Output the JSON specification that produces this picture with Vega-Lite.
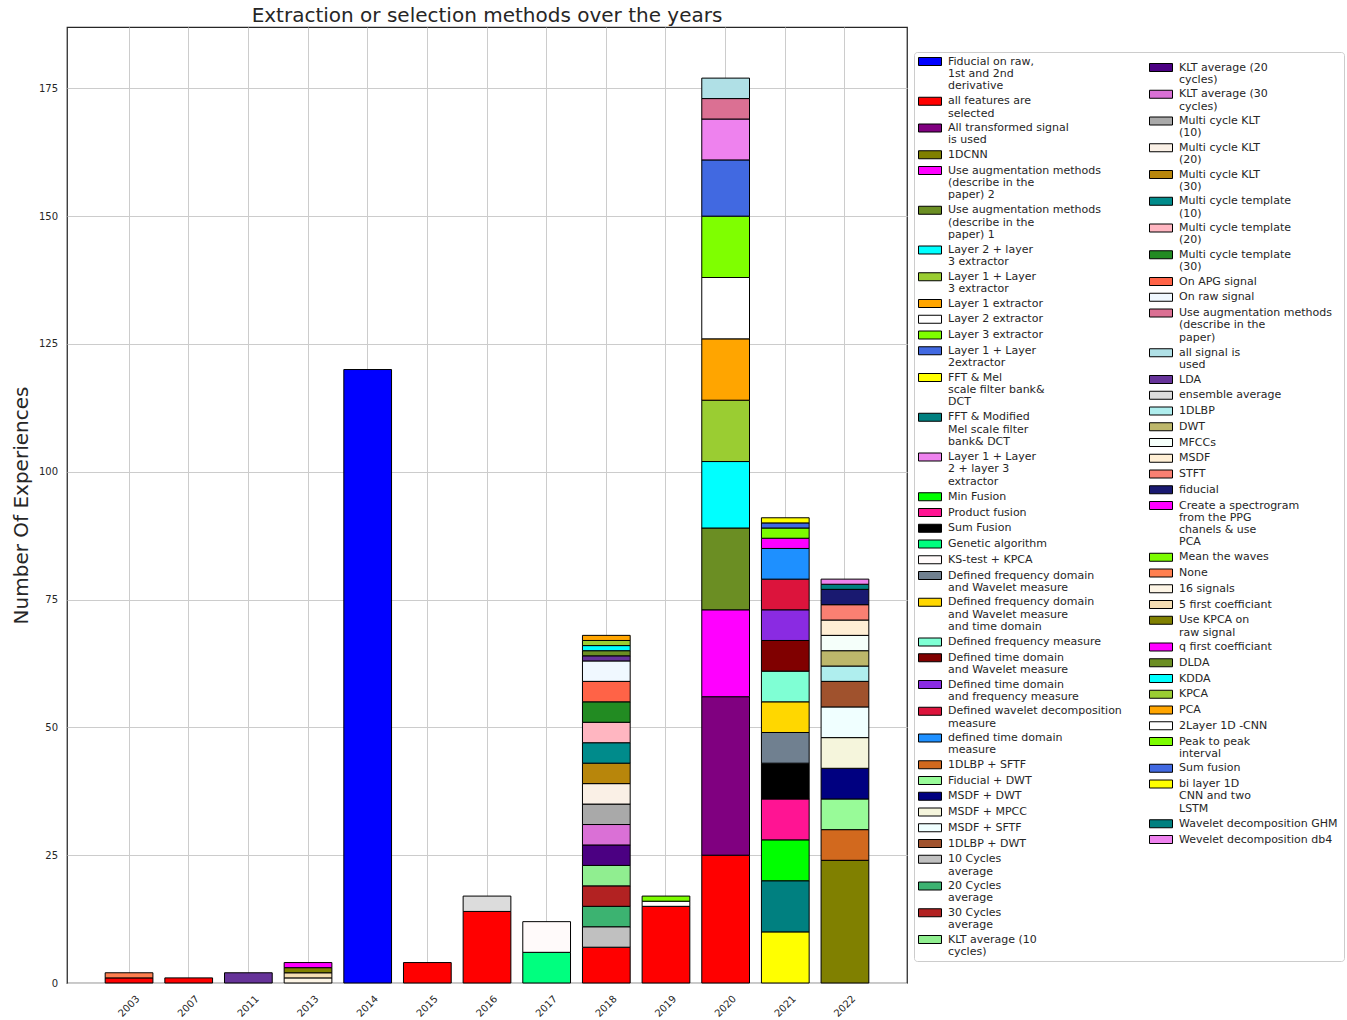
{
  "$schema": "https://vega.github.io/schema/vega-lite/v6.json",
  "autosize": {"type": "none"},
  "padding": {"left": 67, "top": 27, "right": 440, "bottom": 37},
  "width": 840,
  "height": 956,
  "background": "white",
  "config": {
    "font": "DejaVu Sans",
    "view": {"stroke": "#262626", "strokeWidth": 1.25},
    "axis": {"labelFont": "DejaVu Sans", "labelFontSize": 10, "labelColor": "#262626", "titleFont": "DejaVu Sans", "titleFontSize": 20, "titleFontWeight": "normal", "titleColor": "#262626", "gridColor": "#cccccc", "gridWidth": 1, "domain": false, "ticks": false, "tickSize": 0},
    "legend": {"orient": "none", "labelFont": "DejaVu Sans", "labelFontSize": 11, "labelColor": "#262626", "symbolType": "M-1,-0.8H3.6V0.8H-1Z", "symbolSize": 100, "symbolStrokeColor": "black", "symbolStrokeWidth": 1, "symbolOpacity": 1, "labelOffset": 19, "rowPadding": 2.75, "symbolLimit": 200, "labelLimit": 400, "padding": 4}
  },
  "title": {"text": "Extraction or selection methods over the years", "font": "DejaVu Sans", "fontSize": 20, "fontWeight": "normal", "color": "#262626", "frame": "group", "anchor": "middle", "baseline": "alphabetic", "offset": 4.5, "dy": 19},
  "data": {"values": [
    {"year": "2003", "method": "all features are\nselected", "n": 1, "k": 2},
    {"year": "2003", "method": "None", "n": 1, "k": 60},
    {"year": "2007", "method": "all features are\nselected", "n": 1, "k": 2},
    {"year": "2011", "method": "LDA", "n": 2, "k": 50},
    {"year": "2013", "method": "16 signals", "n": 1, "k": 61},
    {"year": "2013", "method": "5 first coefficiant", "n": 1, "k": 62},
    {"year": "2013", "method": "Use KPCA on\nraw signal", "n": 1, "k": 63},
    {"year": "2013", "method": "q first coefficiant", "n": 1, "k": 64},
    {"year": "2014", "method": "Fiducial on raw,\n1st and 2nd\nderivative", "n": 120, "k": 1},
    {"year": "2015", "method": "all features are\nselected", "n": 4, "k": 2},
    {"year": "2016", "method": "all features are\nselected", "n": 14, "k": 2},
    {"year": "2016", "method": "ensemble average", "n": 3, "k": 51},
    {"year": "2017", "method": "Genetic algorithm", "n": 6, "k": 19},
    {"year": "2017", "method": "KS-test + KPCA", "n": 6, "k": 20},
    {"year": "2018", "method": "all features are\nselected", "n": 7, "k": 2},
    {"year": "2018", "method": " 10 Cycles\naverage", "n": 4, "k": 34},
    {"year": "2018", "method": " 20 Cycles\naverage", "n": 4, "k": 35},
    {"year": "2018", "method": " 30 Cycles\naverage", "n": 4, "k": 36},
    {"year": "2018", "method": "KLT average (10\ncycles)", "n": 4, "k": 37},
    {"year": "2018", "method": "KLT average (20\ncycles)", "n": 4, "k": 38},
    {"year": "2018", "method": "KLT average (30\ncycles)", "n": 4, "k": 39},
    {"year": "2018", "method": "Multi cycle KLT\n(10)", "n": 4, "k": 40},
    {"year": "2018", "method": "Multi cycle KLT\n(20)", "n": 4, "k": 41},
    {"year": "2018", "method": "Multi cycle KLT\n(30)", "n": 4, "k": 42},
    {"year": "2018", "method": "Multi cycle template\n(10)", "n": 4, "k": 43},
    {"year": "2018", "method": "Multi cycle template\n(20)", "n": 4, "k": 44},
    {"year": "2018", "method": "Multi cycle template\n(30)", "n": 4, "k": 45},
    {"year": "2018", "method": "On APG signal", "n": 4, "k": 46},
    {"year": "2018", "method": "On raw signal", "n": 4, "k": 47},
    {"year": "2018", "method": "LDA", "n": 1, "k": 50},
    {"year": "2018", "method": "DLDA", "n": 1, "k": 65},
    {"year": "2018", "method": "KDDA", "n": 1, "k": 66},
    {"year": "2018", "method": "KPCA", "n": 1, "k": 67},
    {"year": "2018", "method": "PCA", "n": 1, "k": 68},
    {"year": "2019", "method": "all features are\nselected", "n": 15, "k": 2},
    {"year": "2019", "method": "2Layer 1D -CNN", "n": 1, "k": 69},
    {"year": "2019", "method": "Peak to peak\ninterval", "n": 1, "k": 70},
    {"year": "2020", "method": "all features are\nselected", "n": 25, "k": 2},
    {"year": "2020", "method": "All transformed signal\nis used", "n": 31, "k": 3},
    {"year": "2020", "method": "Use augmentation methods\n(describe in the\npaper) 2", "n": 17, "k": 5},
    {"year": "2020", "method": "Use augmentation methods\n(describe in the\npaper) 1", "n": 16, "k": 6},
    {"year": "2020", "method": "Layer 2 + layer\n3 extractor", "n": 13, "k": 7},
    {"year": "2020", "method": "Layer 1 + Layer\n3  extractor", "n": 12, "k": 8},
    {"year": "2020", "method": "Layer 1 extractor", "n": 12, "k": 9},
    {"year": "2020", "method": "Layer 2 extractor", "n": 12, "k": 10},
    {"year": "2020", "method": "Layer 3 extractor", "n": 12, "k": 11},
    {"year": "2020", "method": "Layer 1 + Layer\n2extractor", "n": 11, "k": 12},
    {"year": "2020", "method": "Layer 1 + Layer\n2 + layer 3\nextractor", "n": 8, "k": 15},
    {"year": "2020", "method": "Use augmentation methods\n(describe in the\npaper)", "n": 4, "k": 48},
    {"year": "2020", "method": "all signal is\nused", "n": 4, "k": 49},
    {"year": "2021", "method": "FFT & Mel\nscale filter bank&\nDCT", "n": 10, "k": 13},
    {"year": "2021", "method": "FFT & Modified\nMel scale filter\nbank& DCT", "n": 10, "k": 14},
    {"year": "2021", "method": "Min Fusion", "n": 8, "k": 16},
    {"year": "2021", "method": "Product fusion", "n": 8, "k": 17},
    {"year": "2021", "method": "Sum Fusion", "n": 7, "k": 18},
    {"year": "2021", "method": "Defined frequency domain\nand Wavelet measure", "n": 6, "k": 21},
    {"year": "2021", "method": "Defined frequency domain\nand Wavelet measure\nand time domain", "n": 6, "k": 22},
    {"year": "2021", "method": "Defined frequency measure", "n": 6, "k": 23},
    {"year": "2021", "method": "Defined time domain\nand Wavelet measure", "n": 6, "k": 24},
    {"year": "2021", "method": "Defined time domain\nand frequency measure", "n": 6, "k": 25},
    {"year": "2021", "method": "Defined wavelet decomposition\nmeasure", "n": 6, "k": 26},
    {"year": "2021", "method": "defined time domain\nmeasure", "n": 6, "k": 27},
    {"year": "2021", "method": "Create a spectrogram\nfrom the PPG\nchanels & use\nPCA", "n": 2, "k": 58},
    {"year": "2021", "method": "Mean the waves", "n": 2, "k": 59},
    {"year": "2021", "method": "Sum fusion", "n": 1, "k": 71},
    {"year": "2021", "method": "bi layer 1D\nCNN and two\nLSTM", "n": 1, "k": 72},
    {"year": "2022", "method": "1DCNN", "n": 24, "k": 4},
    {"year": "2022", "method": "1DLBP + SFTF", "n": 6, "k": 28},
    {"year": "2022", "method": "Fiducial + DWT", "n": 6, "k": 29},
    {"year": "2022", "method": "MSDF + DWT", "n": 6, "k": 30},
    {"year": "2022", "method": "MSDF + MPCC", "n": 6, "k": 31},
    {"year": "2022", "method": "MSDF + SFTF", "n": 6, "k": 32},
    {"year": "2022", "method": "1DLBP + DWT", "n": 5, "k": 33},
    {"year": "2022", "method": "1DLBP", "n": 3, "k": 52},
    {"year": "2022", "method": "DWT", "n": 3, "k": 53},
    {"year": "2022", "method": "MFCCs", "n": 3, "k": 54},
    {"year": "2022", "method": "MSDF", "n": 3, "k": 55},
    {"year": "2022", "method": "STFT", "n": 3, "k": 56},
    {"year": "2022", "method": "fiducial", "n": 3, "k": 57},
    {"year": "2022", "method": "Wavelet decomposition GHM", "n": 1, "k": 73},
    {"year": "2022", "method": "Wevelet decomposition db4", "n": 1, "k": 74}
  ]},
  "transform": [
    {"stack": "n", "groupby": ["year"], "sort": [{"field": "k", "order": "ascending"}], "as": ["y0", "y1"]}
  ],
  "encoding": {
    "x": {"field": "year", "type": "ordinal", "scale": {"paddingInner": 0.2, "paddingOuter": 0.64}, "axis": {"title": null, "labelAngle": -45, "labelAlign": "center", "labelBaseline": "middle", "labelPadding": 23, "grid": true, "bandPosition": 0.5}},
    "y": {"field": "y0", "type": "quantitative", "scale": {"domain": [0, 187], "nice": false}, "axis": {"title": "Number Of Experiences", "values": [0, 25, 50, 75, 100, 125, 150, 175], "labelPadding": 9.5, "titlePadding": 7, "grid": true}},
    "y2": {"field": "y1"}
  },
  "layer": [
    {
      "transform": [{"filter": "datum.k <= 37"}],
      "mark": {"type": "bar", "stroke": "black", "strokeWidth": 1},
      "encoding": {
        "color": {"field": "method", "type": "nominal",
          "scale": {
            "domain": ["Fiducial on raw,\n1st and 2nd\nderivative", "all features are\nselected", "All transformed signal\nis used", "1DCNN", "Use augmentation methods\n(describe in the\npaper) 2", "Use augmentation methods\n(describe in the\npaper) 1", "Layer 2 + layer\n3 extractor", "Layer 1 + Layer\n3  extractor", "Layer 1 extractor", "Layer 2 extractor", "Layer 3 extractor", "Layer 1 + Layer\n2extractor", "FFT & Mel\nscale filter bank&\nDCT", "FFT & Modified\nMel scale filter\nbank& DCT", "Layer 1 + Layer\n2 + layer 3\nextractor", "Min Fusion", "Product fusion", "Sum Fusion", "Genetic algorithm", "KS-test + KPCA", "Defined frequency domain\nand Wavelet measure", "Defined frequency domain\nand Wavelet measure\nand time domain", "Defined frequency measure", "Defined time domain\nand Wavelet measure", "Defined time domain\nand frequency measure", "Defined wavelet decomposition\nmeasure", "defined time domain\nmeasure", "1DLBP + SFTF", "Fiducial + DWT", "MSDF + DWT", "MSDF + MPCC", "MSDF + SFTF", "1DLBP + DWT", " 10 Cycles\naverage", " 20 Cycles\naverage", " 30 Cycles\naverage", "KLT average (10\ncycles)"],
            "range": ["#0000ff", "#ff0000", "#800080", "#808000", "#ff00ff", "#6b8e23", "#00ffff", "#9acd32", "#ffa500", "#ffffff", "#7fff00", "#4169e1", "#ffff00", "#008080", "#ee82ee", "#00ff00", "#ff1493", "#000000", "#00ff7f", "#fffafa", "#708090", "#ffd700", "#7fffd4", "#800000", "#8a2be2", "#dc143c", "#1e90ff", "#d2691e", "#98fb98", "#000080", "#f5f5dc", "#f0ffff", "#a0522d", "#c0c0c0", "#3cb371", "#b22222", "#90ee90"]
          },
          "legend": {"legendX": 847, "legendY": 25, "title": "\u00a0", "titleOrient": "right", "titlePadding": 218, "titleFontSize": 11, "titleLimit": 100, "strokeColor": "#cccccc", "cornerRadius": 3, "labelExpr": "split(datum.label, '\\n')", "encode": {"labels": {"update": {"lineHeight": {"value": 12.28}}}}}
        }
      }
    },
    {
      "transform": [{"filter": "datum.k >= 38"}],
      "mark": {"type": "bar", "stroke": "black", "strokeWidth": 1},
      "encoding": {
        "color": {"field": "method", "type": "nominal",
          "scale": {
            "domain": ["KLT average (20\ncycles)", "KLT average (30\ncycles)", "Multi cycle KLT\n(10)", "Multi cycle KLT\n(20)", "Multi cycle KLT\n(30)", "Multi cycle template\n(10)", "Multi cycle template\n(20)", "Multi cycle template\n(30)", "On APG signal", "On raw signal", "Use augmentation methods\n(describe in the\npaper)", "all signal is\nused", "LDA", "ensemble average", "1DLBP", "DWT", "MFCCs", "MSDF", "STFT", "fiducial", "Create a spectrogram\nfrom the PPG\nchanels & use\nPCA", "Mean the waves", "None", "16 signals", "5 first coefficiant", "Use KPCA on\nraw signal", "q first coefficiant", "DLDA", "KDDA", "KPCA", "PCA", "2Layer 1D -CNN", "Peak to peak\ninterval", "Sum fusion", "bi layer 1D\nCNN and two\nLSTM", "Wavelet decomposition GHM", "Wevelet decomposition db4"],
            "range": ["#4b0082", "#da70d6", "#a9a9a9", "#faf0e6", "#b8860b", "#008b8b", "#ffb6c1", "#228b22", "#ff6347", "#f0f8ff", "#db7093", "#b0e0e6", "#663399", "#dcdcdc", "#afeeee", "#bdb76b", "#f5fffa", "#ffefd5", "#fa8072", "#191970", "#ff00ff", "#7cfc00", "#ff7f50", "#fdf5e6", "#f5deb3", "#808000", "#ff00ff", "#6b8e23", "#00ffff", "#9acd32", "#ffa500", "#ffffff", "#7cfc00", "#4169e1", "#ffff00", "#008080", "#ee82ee"]
          },
          "legend": {"legendX": 1078, "legendY": 31, "title": null, "labelExpr": "split(datum.label, '\\n')", "encode": {"labels": {"update": {"lineHeight": {"value": 12.28}}}}}
        }
      }
    }
  ],
  "resolve": {"scale": {"color": "independent"}}
}
